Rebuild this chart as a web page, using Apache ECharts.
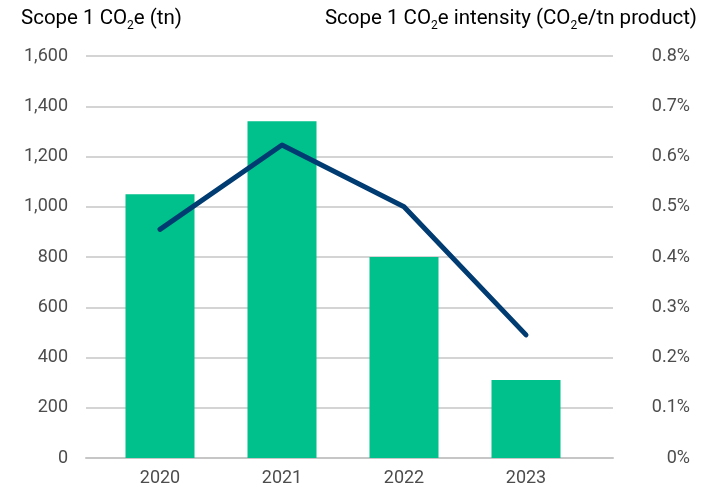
<!DOCTYPE html>
<html>
<head>
<meta charset="utf-8">
<script src="https://cdn.jsdelivr.net/npm/echarts@6/dist/echarts.min.js"></script>
<style>
  html, body { margin: 0; padding: 0; background: #fff; }
  #chart { width: 704px; height: 487px; }
</style>
</head>
<body>
<div id="chart"></div>
<script>
// Scope 1 emissions by year, with emissions intensity on the right axis
const years = ['2020', '2021', '2022', '2023'];
const emissions = [1050, 1340, 800, 310];          // tn CO2e
const intensity = [0.455, 0.623, 0.50, 0.245];     // % CO2e per tn product

const FONT = 'Roboto';
const TEXT = '#4d4d4d';
const GRID_LINE = '#c6c6c6';

const chart = echarts.init(document.getElementById('chart'), null, { renderer: 'canvas' });

const rich = {
  a: { fontFamily: FONT, fontSize: 20.5, color: TEXT },
  s: { fontFamily: FONT, fontSize: 12, color: TEXT, padding: [15, 0, 0, 0] }
};

chart.setOption({
  animation: false,
  backgroundColor: '#fff',
  textStyle: { fontFamily: FONT },
  graphic: [
    {
      type: 'text', left: 21, top: 8,
      style: { text: '{a|Scope 1 CO}{s|2}{a|e (tn)}', rich: rich }
    },
    {
      type: 'text', right: 7, top: 8,
      style: { text: '{a|Scope 1 CO}{s|2}{a|e intensity (CO}{s|2}{a|e/tn product)}', rich: rich }
    }
  ],
  grid: [
    // full-width frame carrying the gridlines, tick labels and baseline
    { left: 86, right: 91, top: 56, bottom: 29 },
    // inner band holding the bars and the line
    { left: 99, right: 117, top: 56, bottom: 29 }
  ],
  xAxis: [
    {
      gridIndex: 0, type: 'value', min: 0, max: 1,
      axisLine: { show: true, lineStyle: { color: GRID_LINE, width: 2 } },
      axisTick: { show: false }, axisLabel: { show: false }, splitLine: { show: false }
    },
    {
      gridIndex: 1, type: 'category', data: years,
      axisLine: { show: false }, axisTick: { show: false },
      axisLabel: { fontFamily: FONT, fontSize: 18, color: TEXT, margin: 11 }
    }
  ],
  yAxis: [
    {
      gridIndex: 0, type: 'value', min: 0, max: 1600, interval: 200,
      axisLine: { show: false }, axisTick: { show: false },
      axisLabel: {
        fontFamily: FONT, fontSize: 18, color: TEXT, margin: 18,
        formatter: v => v.toLocaleString('en-US')
      },
      splitLine: { lineStyle: { color: GRID_LINE, width: 1.5 } }
    },
    {
      gridIndex: 0, type: 'value', position: 'right', min: 0, max: 0.8, interval: 0.1,
      axisLine: { show: false }, axisTick: { show: false },
      axisLabel: {
        fontFamily: FONT, fontSize: 18, color: TEXT, margin: 77, align: 'right',
        formatter: v => (Math.round(v * 10) / 10) + '%'
      },
      splitLine: { show: false }
    },
    { gridIndex: 1, type: 'value', min: 0, max: 1600, show: false },
    { gridIndex: 1, type: 'value', min: 0, max: 0.8, show: false }
  ],
  series: [
    {
      type: 'bar', xAxisIndex: 1, yAxisIndex: 2,
      data: emissions, barWidth: 69,
      itemStyle: { color: '#00c08b' }
    },
    {
      type: 'line', xAxisIndex: 1, yAxisIndex: 3,
      data: intensity, symbol: 'none', z: 5,
      lineStyle: { color: '#003b71', width: 5, cap: 'round', join: 'round' }
    }
  ]
});
</script>
</body>
</html>
